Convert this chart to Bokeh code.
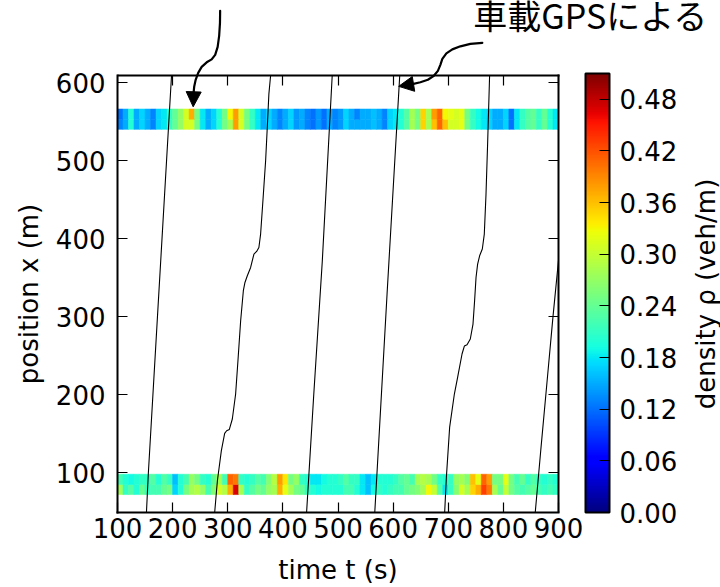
import numpy as np
from bokeh.plotting import figure
from bokeh.models import (ColumnDataSource, LinearColorMapper, ColorBar, FixedTicker,
                          PrintfTickFormatter, LinearAxis, Range1d, Arrow, NormalHead,
                          Label, CustomJSTickFormatter)
from bokeh.transform import transform
from bokeh.embed import file_html
from bokeh.resources import INLINE

# ---------------- data ----------------
x_ticks = [100, 200, 300, 400, 500, 600, 700, 800, 900]
y_ticks = [100, 200, 300, 400, 500, 600]
cbar_ticks = [0.00, 0.06, 0.12, 0.18, 0.24, 0.30, 0.36, 0.42, 0.48]
t_lim = (100, 900)
x_lim = (49, 609)

# time bins (start of each 10 s cell)
t_bins = list(range(100, 900, 10))
bin_width = 10

# detector bands (position ranges, m)
upper_band_rows = [(540, 553), (553, 566)]
lower_band_rows = [(72, 85), (85, 98)]

# densities (veh/m), upper detector (lower half row, upper half row)
rho_upper_lo = [0.13, 0.15, 0.20, 0.15, 0.17, 0.15, 0.13, 0.17, 0.18, 0.21,
                0.24, 0.27, 0.31, 0.31, 0.25, 0.18, 0.15, 0.17, 0.20, 0.25,
                0.28, 0.38, 0.31, 0.25, 0.21, 0.18, 0.15, 0.17, 0.15, 0.13,
                0.15, 0.17, 0.14, 0.15, 0.13, 0.12, 0.14, 0.12, 0.15, 0.13,
                0.14, 0.17, 0.15, 0.15, 0.15, 0.15, 0.16, 0.15, 0.13, 0.17,
                0.18, 0.20, 0.23, 0.28, 0.25, 0.35, 0.28, 0.36, 0.41, 0.36,
                0.31, 0.31, 0.32, 0.25, 0.21, 0.19, 0.18, 0.17, 0.15, 0.15,
                0.17, 0.12, 0.18, 0.21, 0.23, 0.24, 0.21, 0.24, 0.20, 0.18]
rho_upper_hi = [0.12, 0.15, 0.20, 0.15, 0.17, 0.15, 0.13, 0.17, 0.18, 0.21,
                0.24, 0.27, 0.31, 0.37, 0.25, 0.18, 0.15, 0.17, 0.20, 0.25,
                0.33, 0.38, 0.31, 0.25, 0.21, 0.18, 0.15, 0.17, 0.15, 0.13,
                0.15, 0.17, 0.14, 0.15, 0.13, 0.12, 0.14, 0.12, 0.15, 0.13,
                0.14, 0.17, 0.15, 0.13, 0.15, 0.15, 0.16, 0.15, 0.13, 0.17,
                0.18, 0.20, 0.23, 0.28, 0.25, 0.35, 0.28, 0.38, 0.41, 0.33,
                0.32, 0.31, 0.32, 0.25, 0.21, 0.19, 0.18, 0.17, 0.15, 0.15,
                0.17, 0.12, 0.18, 0.21, 0.23, 0.24, 0.21, 0.24, 0.20, 0.18]
# lower detector (lower half row, upper half row)
rho_lower_lo = [0.28, 0.21, 0.23, 0.20, 0.24, 0.21, 0.22, 0.22, 0.24, 0.25,
                0.17, 0.20, 0.25, 0.28, 0.29, 0.27, 0.22, 0.26, 0.31, 0.29,
                0.37, 0.47, 0.28, 0.21, 0.23, 0.25, 0.24, 0.27, 0.28, 0.37,
                0.32, 0.28, 0.25, 0.24, 0.21, 0.20, 0.19, 0.20, 0.20, 0.20,
                0.20, 0.22, 0.22, 0.20, 0.18, 0.16, 0.19, 0.21, 0.20, 0.21,
                0.22, 0.22, 0.24, 0.25, 0.26, 0.28, 0.33, 0.30, 0.23, 0.18,
                0.21, 0.26, 0.31, 0.28, 0.35, 0.37, 0.43, 0.40, 0.28, 0.24,
                0.30, 0.25, 0.23, 0.22, 0.23, 0.24, 0.22, 0.21, 0.22, 0.21]
rho_lower_hi = [0.22, 0.20, 0.19, 0.20, 0.21, 0.21, 0.23, 0.20, 0.23, 0.21,
                0.16, 0.20, 0.22, 0.27, 0.25, 0.21, 0.20, 0.24, 0.28, 0.22,
                0.41, 0.40, 0.21, 0.20, 0.21, 0.23, 0.22, 0.26, 0.29, 0.38,
                0.34, 0.25, 0.27, 0.21, 0.20, 0.18, 0.18, 0.19, 0.20, 0.20,
                0.21, 0.23, 0.21, 0.21, 0.18, 0.16, 0.18, 0.20, 0.20, 0.20,
                0.21, 0.23, 0.24, 0.22, 0.28, 0.29, 0.28, 0.25, 0.21, 0.20,
                0.21, 0.27, 0.28, 0.26, 0.36, 0.32, 0.41, 0.38, 0.25, 0.25,
                0.32, 0.25, 0.22, 0.24, 0.21, 0.23, 0.21, 0.20, 0.21, 0.20]

# GPS vehicle trajectories: time (s) and position (m)
traj1_t = [152.5, 156.0, 172.5, 189.0, 198.0]
traj1_x = [49.0, 100.0, 300.0, 500.0, 609.0]
traj2_t = [276.3, 281.2, 288.4, 294.4, 298.0, 302.9, 308.3, 314.3, 318.5, 323.4, 328.3,
           331.2, 335.5, 341.5, 347.5, 352.4, 356.5, 359.6, 363.8, 368.7, 371.7, 374.6, 377.7]
traj2_x = [49.1, 89.7, 128.2, 150.4, 153.8, 155.5, 168.8, 200.8, 243.5, 294.7, 333.2,
           343.8, 352.4, 363.0, 380.2, 383.5, 388.6, 405.8, 448.5, 499.7, 542.4, 585.1, 608.6]
traj3_t = [443.0, 456.0, 471.5, 489.5]
traj3_x = [49.0, 200.0, 371.0, 609.0]
traj4_t = [566.7, 589.0, 612.0]
traj4_x = [49.0, 329.0, 609.0]
traj5_t = [693.5, 696.6, 702.5, 711.1, 717.0, 725.0, 729.2, 734.1, 740.0, 744.9, 747.8,
           750.4, 753.3, 756.9, 761.8, 765.4, 768.5, 771.4, 775.0]
traj5_x = [49.1, 94.0, 158.0, 200.8, 222.1, 252.1, 262.3, 264.0, 271.3, 290.5, 320.3,
           350.2, 367.3, 378.0, 386.6, 405.8, 457.0, 521.1, 608.6]
traj6_t = [857.8, 868.0, 879.0, 890.0, 900.0]
traj6_x = [49.0, 130.0, 215.0, 300.0, 372.0]

# annotation arrow paths (data coordinates, the tails lie above the axes box)
arrow_det_t = [286.2, 285.9, 284.4, 281.7, 277.2, 270.8, 261.8, 252.7, 246.4, 241.8, 239.1, 238.2]
arrow_det_x = [691.9, 676.5, 659.8, 645.7, 635.5, 629.7, 625.9, 620.1, 612.4, 603.5, 594.5, 588.1]
arrow_det_tip = (237.3, 568.9)
arrow_gps_t = [761.8, 740.1, 722.0, 707.4, 696.6, 689.3, 685.7, 681.2, 673.9, 663.0, 649.5, 635.0]
arrow_gps_x = [650.9, 649.6, 646.4, 642.5, 637.4, 630.4, 622.7, 615.0, 608.6, 603.5, 600.3, 598.0]
arrow_gps_tip = (610.1, 595.1)

gps_text = "車載GPSによる"
x_label = "time t (s)"
y_label = "position x (m)"
c_label = "density ρ (veh/m)"

# ---------------- layout / styling ----------------
def jet_palette(n=256):
    s = np.linspace(0, 1, n)
    r = np.interp(s, [0, 0.35, 0.66, 0.89, 1], [0, 0, 1, 1, 0.5])
    g = np.interp(s, [0, 0.125, 0.375, 0.64, 0.91, 1], [0, 0, 1, 1, 0, 0])
    b = np.interp(s, [0, 0.11, 0.34, 0.65, 1], [0.5, 1, 1, 0, 0])
    return ["#%02x%02x%02x" % (int(round(255 * a)), int(round(255 * c)), int(round(255 * d)))
            for a, c, d in zip(r, g, b)]

FONT = "DejaVu Sans"
FS = "26px"
W, H = 720, 587
BORDER_L, BORDER_R, BORDER_T, BORDER_B = 117, 162, 75, 75
box_w = W - BORDER_L - BORDER_R           # axes box size in pixels
box_h = H - BORDER_T - BORDER_B
sx = (t_lim[1] - t_lim[0]) / box_w        # seconds per pixel
sy = (x_lim[1] - x_lim[0]) / box_h        # metres per pixel
# the plotting area reaches the top and right page edges so that annotations can be drawn
# there; the axes box itself is drawn by the (bounded / fixed) axes
t_right = t_lim[1] + BORDER_R * sx
y_top = x_lim[1] + BORDER_T * sy

mapper = LinearColorMapper(palette=jet_palette(), low=0.0, high=0.51)

p = figure(width=W, height=H, x_range=Range1d(t_lim[0], t_right),
           y_range=Range1d(x_lim[0], y_top),
           output_backend="svg", toolbar_location=None,
           min_border_left=BORDER_L, min_border_right=0, min_border_top=0,
           min_border_bottom=BORDER_B)
p.grid.visible = False
p.outline_line_color = None
p.background_fill_color = "white"
p.border_fill_color = "white"

# heatmap cells
left, right, bottom, top, rho = [], [], [], [], []
for (lo, hi), vals in zip(upper_band_rows + lower_band_rows,
                          [rho_upper_lo, rho_upper_hi, rho_lower_lo, rho_lower_hi]):
    for tb, v in zip(t_bins, vals):
        left.append(tb)
        right.append(tb + bin_width)
        bottom.append(lo)
        top.append(hi)
        rho.append(v)
cells = ColumnDataSource(dict(left=left, right=right, bottom=bottom, top=top, rho=rho))
p.quad(left="left", right="right", bottom="bottom", top="top", source=cells,
       fill_color=transform("rho", mapper), line_color=transform("rho", mapper), line_width=0.6)

# trajectories
for tt, xx in [(traj1_t, traj1_x), (traj2_t, traj2_x), (traj3_t, traj3_x),
               (traj4_t, traj4_x), (traj5_t, traj5_x), (traj6_t, traj6_x)]:
    p.line(tt, xx, line_color="black", line_width=1.1)

# axes (their lines form the box)
def style_axis(ax, labels=True):
    ax.axis_line_color = "black"
    ax.axis_line_width = 2
    ax.axis_line_cap = "square"
    ax.major_tick_in = 10
    ax.major_tick_out = 0
    ax.minor_tick_in = 0
    ax.minor_tick_out = 0
    ax.major_tick_line_color = "black"
    ax.major_tick_line_width = 1.2
    if labels:
        ax.major_label_text_font = FONT
        ax.major_label_text_font_size = FS
        ax.major_label_text_color = "black"
    else:
        ax.formatter = CustomJSTickFormatter(code="return ''")
        ax.major_label_text_font_size = "0px"
        ax.major_label_standoff = 0

xa, ya = p.xaxis[0], p.yaxis[0]
style_axis(xa)
style_axis(ya)
xa.ticker = FixedTicker(ticks=x_ticks)
ya.ticker = FixedTicker(ticks=y_ticks)
xa.bounds = t_lim
ya.bounds = x_lim
xa.major_label_standoff = 5
ya.major_label_standoff = 12

top_ax = LinearAxis(ticker=FixedTicker(ticks=x_ticks), fixed_location=x_lim[1], bounds=t_lim)
right_ax = LinearAxis(ticker=FixedTicker(ticks=y_ticks), fixed_location=t_lim[1], bounds=x_lim)
style_axis(top_ax, labels=False)
style_axis(right_ax, labels=False)
p.add_layout(top_ax, "above")
p.add_layout(right_ax, "right")

# axis titles (side panels, centred on the axes box)
text_kw = dict(text_font=FONT, text_font_size=FS, text_color="black",
               text_align="center", text_baseline="middle")
p.add_layout(Label(x=(t_lim[0] + t_lim[1]) / 2, y=x_lim[0] - 57 * sy, text=x_label,
                   **text_kw), "below")
p.add_layout(Label(x=t_lim[0] - 89 * sx, y=(x_lim[0] + x_lim[1]) / 2, text=y_label,
                   angle=np.pi / 2, **text_kw), "left")

# colour bar
cb = ColorBar(color_mapper=mapper, location=(468, 0), width=24, height=box_h + 2,
              padding=0, margin=0, ticker=FixedTicker(ticks=cbar_ticks),
              formatter=PrintfTickFormatter(format="%.2f"),
              major_label_text_font=FONT, major_label_text_font_size=FS,
              major_label_text_color="black", label_standoff=10,
              major_tick_in=10, major_tick_out=0, major_tick_line_color="black",
              major_tick_line_width=1.2, bar_line_color="black", bar_line_width=2,
              background_fill_color=None, border_line_color=None)
p.add_layout(cb, "center")
p.add_layout(Label(x=t_lim[1] + 147 * sx, y=(x_lim[0] + x_lim[1]) / 2, text=c_label,
                   angle=np.pi / 2, **text_kw))

# annotation arrows
head_kw = dict(size=15, fill_color="black", line_color="black")
for pt, px, tip in [(arrow_det_t, arrow_det_x, arrow_det_tip),
                    (arrow_gps_t, arrow_gps_x, arrow_gps_tip)]:
    p.line(pt, px, line_color="black", line_width=2.2, line_join="round", line_cap="round")
    p.add_layout(Arrow(end=NormalHead(**head_kw), x_start=pt[-1], y_start=px[-1],
                       x_end=tip[0], y_end=tip[1], line_color="black", line_width=2.2))

p.add_layout(Label(x=745.5, y=687, text=gps_text, text_align="left",
                   text_baseline="middle", text_font="Noto Sans CJK JP",
                   text_font_size="34px", text_color="black"))

open("out.html", "w").write(file_html(p, INLINE))
